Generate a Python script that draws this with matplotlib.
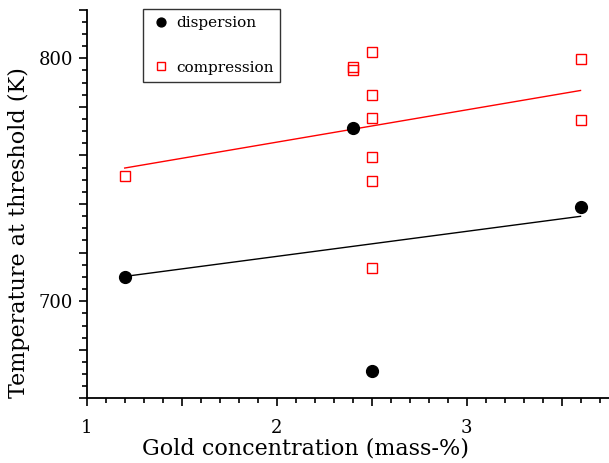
import numpy as np
import matplotlib
matplotlib.use('Agg')
import matplotlib.pyplot as plt
from matplotlib.ticker import MultipleLocator, FuncFormatter

# gold concentration (mass-%) vs temperature at threshold (K)
disp_x = [1.2, 2.4, 2.5, 3.6]
disp_y = [709.8, 771.3, 671.3, 738.9]

comp_x = [1.2, 2.4, 2.4, 2.5, 2.5, 2.5, 2.5, 2.5, 2.5, 3.6, 3.6]
comp_y = [751.6, 796.3, 795.1, 802.5, 784.8, 775.4, 759.4, 749.6, 713.5, 799.6, 774.6]

plt.rcParams['font.family'] = 'DejaVu Serif'

fig = plt.figure(figsize=(6.09, 4.63), dpi=100)
ax = fig.add_axes([0.1424, 0.1395, 0.8576, 0.8397])

# linear fits
for xs, ys, c in [(disp_x, disp_y, 'black'), (comp_x, comp_y, 'red')]:
    p = np.polyfit(xs, ys, 1)
    xx = np.array([min(xs), max(xs)])
    ax.plot(xx, np.polyval(p, xx), color=c, lw=1.0)

ax.plot(disp_x, disp_y, 'o', color='black', ms=8.5, label='dispersion')
ax.plot(comp_x, comp_y, 's', mfc='none', mec='red', mew=1.0, ms=7.5, label='compression')

ax.set_xlim(1, 3.75)
ax.set_ylim(660, 820)

for s in ['top', 'right']:
    ax.spines[s].set_visible(False)
for s in ['left', 'bottom']:
    ax.spines[s].set_linewidth(1.3)

ax.xaxis.set_major_locator(MultipleLocator(0.5))
ax.xaxis.set_minor_locator(MultipleLocator(0.1))
ax.xaxis.set_major_formatter(FuncFormatter(lambda v, pos: '%d' % round(v) if abs(v - round(v)) < 1e-6 else ''))
ax.yaxis.set_major_locator(MultipleLocator(20))
ax.yaxis.set_minor_locator(MultipleLocator(5))
ax.yaxis.set_major_formatter(FuncFormatter(lambda v, pos: '%d' % round(v) if round(v) % 100 == 0 else ''))

ax.tick_params(which='major', direction='out', length=6, width=1.2, labelsize=13)
ax.tick_params(which='minor', direction='out', length=3.5, width=1.2)
ax.tick_params(axis='x', which='major', pad=8.5)
ax.tick_params(axis='y', which='major', pad=4)

ax.set_xlabel('Gold concentration (mass-%)', fontsize=16)
ax.set_ylabel('Temperature at threshold (K)', fontsize=16, labelpad=6)
ax.xaxis.set_label_coords(0.418, -0.1)
ax.xaxis.label.set_va('top')
ax.yaxis.label.set_y(0.4254)

leg = ax.legend(loc='upper left', bbox_to_anchor=(0.1078, 1.0008), fontsize=11,
                frameon=True, fancybox=False, handlelength=1.4, handletextpad=0.3,
                labelspacing=2.0, borderpad=0.45, borderaxespad=0, markerscale=0.75)
leg.get_frame().set_edgecolor('black')
leg.get_frame().set_linewidth(1.0)

plt.savefig('out.png', dpi=100)
